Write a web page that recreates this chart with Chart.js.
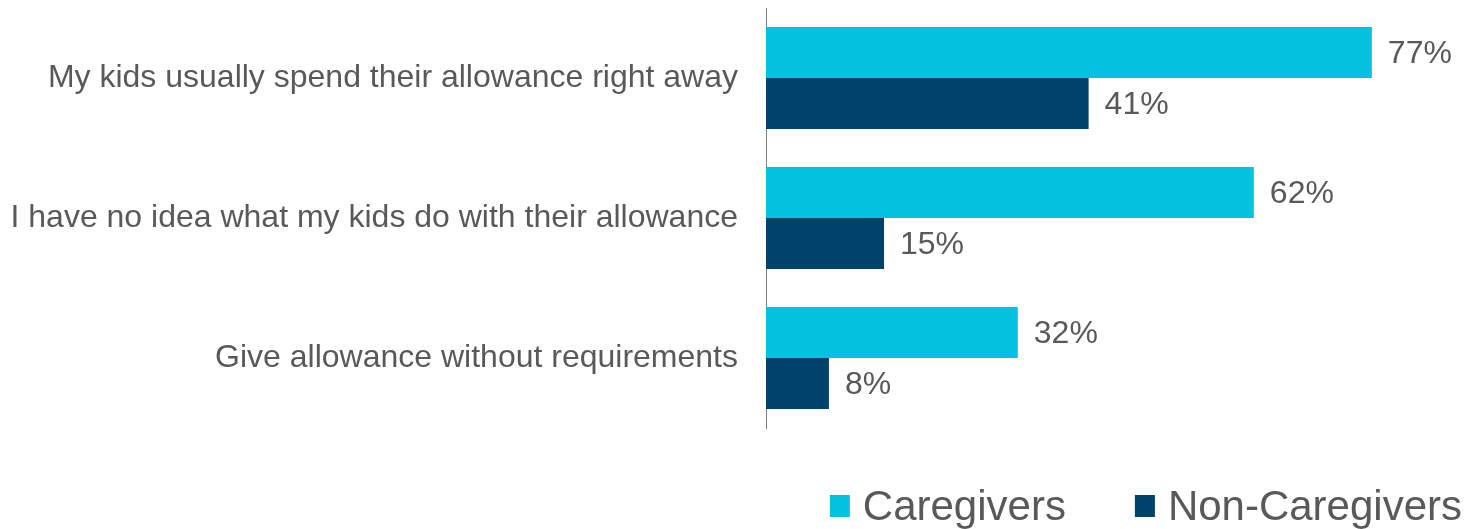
<!DOCTYPE html>
<html>
<head>
<meta charset="utf-8">
<script src="https://cdn.jsdelivr.net/npm/chart.js@4/dist/chart.umd.min.js"></script>
<style>
    html, body { margin: 0; padding: 0; background: #fff; }
    #chart { display: block; }
</style>
</head>
<body>
<canvas id="chart" width="1471" height="529"></canvas>
<script>
// ── Data ─────────────────────────────────────────────────────────────────────

const categories = [
    'My kids usually spend their allowance right away',
    'I have no idea what my kids do with their allowance',
    'Give allowance without requirements',
];
const caregivers = [77, 62, 32];
const nonCaregivers = [41, 15, 8];
const seriesNames = ['Caregivers', 'Non-Caregivers'];

const COLORS = ['#05C3DE', '#00426A'];
const TEXT_COLOR = '#595959';
const FONT_FAMILY = '"Liberation Sans", Arial, sans-serif';

// ── Plugins ──────────────────────────────────────────────────────────────────

// value labels at the end of each bar
const valueLabels = {
    id: 'valueLabels',
    afterDatasetsDraw(chart) {
        const { ctx } = chart;
        ctx.save();
        ctx.font = `32px ${FONT_FAMILY}`;
        ctx.fillStyle = TEXT_COLOR;
        ctx.textAlign = 'left';
        ctx.textBaseline = 'middle';
        chart.data.datasets.forEach((ds, i) => {
            chart.getDatasetMeta(i).data.forEach((bar, j) => {
                ctx.fillText(`${ds.data[j]}%`, bar.x + 16, bar.y + 2);
            });
        });
        ctx.restore();
    },
};

// legend drawn bottom-right, square swatches
const bottomLegend = {
    id: 'bottomLegend',
    afterDraw(chart) {
        const { ctx } = chart;
        const box = { w: 20, h: 22 };
        const gapText = 13;
        const gapItem = 69;
        const centerY = 506;

        ctx.save();
        ctx.font = `42px ${FONT_FAMILY}`;
        ctx.textBaseline = 'middle';
        ctx.textAlign = 'left';

        const items = chart.data.datasets.map(ds => ({
            label: ds.label,
            color: ds.backgroundColor,
            width: ctx.measureText(ds.label).width,
        }));
        const total = items.reduce((sum, it) => sum + box.w + gapText + it.width, 0)
            + gapItem * (items.length - 1);

        let x = 1462 - total;
        items.forEach(it => {
            ctx.fillStyle = it.color;
            ctx.fillRect(x, centerY - box.h / 2, box.w, box.h);
            x += box.w + gapText;
            ctx.fillStyle = TEXT_COLOR;
            ctx.fillText(it.label, x, centerY + 2);
            x += it.width + gapItem;
        });
        ctx.restore();
    },
};

// ── Chart ────────────────────────────────────────────────────────────────────

new Chart(document.getElementById('chart'), {
    type: 'bar',
    data: {
        labels: categories,
        datasets: [
            { label: seriesNames[0], data: caregivers, backgroundColor: COLORS[0] },
            { label: seriesNames[1], data: nonCaregivers, backgroundColor: COLORS[1] },
        ],
    },
    options: {
        indexAxis: 'y',
        responsive: false,
        devicePixelRatio: 1,
        animation: false,
        categoryPercentage: 0.73,
        barPercentage: 1,
        layout: {
            autoPadding: false,
            padding: { left: 12, right: 0, top: 8, bottom: 101 },
        },
        plugins: {
            legend: { display: false },
            tooltip: { enabled: false },
        },
        scales: {
            x: {
                display: false,
                min: 0,
                max: 89.6,
            },
            y: {
                grid: { display: false, drawTicks: false },
                border: { display: true, color: '#7f7f7f', width: 1 },
                ticks: {
                    color: TEXT_COLOR,
                    font: { family: FONT_FAMILY, size: 32 },
                    padding: 28,
                },
                // labels are wider than half the canvas, keep the full width
                afterFit(scale) {
                    scale.width = 754;
                    scale.paddingTop = 0;
                    scale.paddingBottom = 0;
                },
            },
        },
    },
    plugins: [valueLabels, bottomLegend],
});
</script>
</body>
</html>
